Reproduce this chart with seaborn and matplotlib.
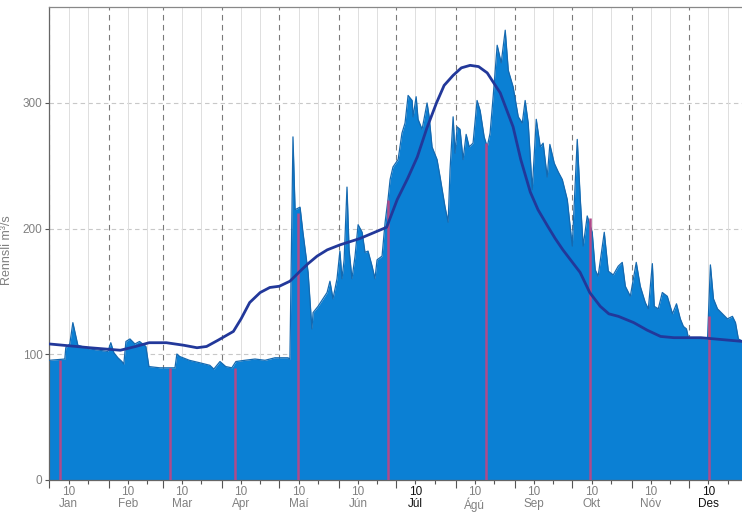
import numpy as np
import matplotlib.pyplot as plt
import seaborn as sns
import pandas as pd

# daily discharge (day of year, m3/s)
flow_day = [0, 8, 8.5, 10.6, 12.2, 13.2, 14.8, 21, 26, 30.5, 32, 33.6, 35.7, 37.8, 38.8,
            39.9, 42, 44.6, 47, 50.3, 51.9, 57.6, 65.5, 66.5, 68, 73, 78.5, 83.7, 85.8,
            89, 92, 95.2, 97.3, 102, 107.3, 112.5, 117.7, 124.5, 125.5,
            127.1, 128.2, 130.8, 132.3, 135, 137, 137.6, 140.2, 142.8, 144.9, 146.4, 148,
            150.1, 151.6, 152.7, 153.8, 155.3, 156.4, 157.9, 159.5, 161.1, 163.2, 164.7,
            166.3, 168.4, 169.9, 171, 173.6, 175.2, 176.7, 177.8, 179.3, 182, 184, 185.6,
            187.2, 189.3, 189.8, 191.4, 192.4, 194.5, 197.1, 198.2, 199.7, 202.3, 203.9,
            206.5, 208.1, 209.1, 210.7, 211.7, 212.8, 214.3, 215.9, 217.5, 219.1, 221.1,
            223.2, 224.8, 226.9, 228.5, 230, 231.6, 233.7, 235.8, 237.9, 239.5, 242,
            244.7, 246.8, 248.3, 249.9, 252, 254.1, 256.2, 257.7, 259.8, 261.2, 263.5,
            265.6, 267.7, 270.3, 272.9, 275.5, 277.1, 278.6, 280.7, 283.3, 284.9, 286.4,
            289.6, 291.7, 294.3, 296.9, 299, 300.6, 303.2, 306.3, 308.4, 311, 312.6,
            314.7, 315.7, 317.8, 319.9, 322.5, 325.2, 327.3, 329.3, 330.9, 332.5, 333.5,
            343.5, 345, 346.6, 348.7, 351.3, 353.9, 356.5, 358.1, 359.6, 362]
flow_val = [95, 96, 105, 108, 125, 118, 107, 104, 103, 102, 109, 101, 97, 94, 92,
            110, 112, 108, 110, 106, 90, 89, 89, 100, 98, 95, 93, 91, 88,
            94, 90, 89, 94, 95, 96, 95, 97, 97, 96,
            273, 215, 217, 197, 165, 120, 133, 138, 144, 149, 158, 144,
            160, 182, 160, 175, 233, 183, 160, 178, 203, 197, 181,
            182, 170, 160, 175, 178, 205, 223, 239, 249, 255, 276, 284,
            306, 302, 289, 305, 287, 279, 300, 289, 265, 255, 241,
            217, 205, 247, 289, 260, 281, 279, 255, 275, 265, 268,
            302, 294, 273, 265, 276, 305, 346, 332, 358, 326, 313,
            289, 284, 302, 284, 231, 287, 265, 268, 241, 267, 252,
            245, 239, 223, 186, 271, 223, 186, 210, 197, 167, 162,
            197, 166, 163, 170, 173, 154, 146, 173, 154, 141, 136,
            172, 138, 136, 149, 146, 132, 140, 128, 122, 120, 113,
            112, 171, 144, 136, 132, 128, 130, 125, 112, 110]

# long-term mean curve
mean_day = [0, 21, 37, 45, 52, 61, 70, 77, 82, 88, 96, 100, 104.5, 110, 115, 120,
            125.5, 130.8, 135, 139.7, 145, 151.7, 162, 176, 181.5, 187, 192, 197,
            202, 206, 210.7, 215, 219.6, 224, 228.5, 235.3, 242, 246, 251, 255, 260,
            264, 268, 272, 277, 282, 287.5, 292, 297, 305, 312, 319, 326, 340, 362]
mean_val = [108, 105, 103, 106, 109, 109, 107, 105, 106, 111, 118, 128, 141, 149, 153, 154,
            158, 166, 172, 178, 183, 187, 192, 201, 223, 240, 257, 280,
            300, 314, 322, 328, 330, 329, 324, 308, 281, 255, 229, 215, 202,
            192, 183, 175, 165, 149, 138, 132, 130, 125, 119, 114, 113, 113, 110]

# discharge measurements
meas_day = [5.4, 62.9, 97, 129.7, 176.7, 227.9, 282.3, 344.4]
meas_val = [95, 89, 89, 212, 223, 268, 208, 130]

month_start = [0, 31, 59, 90, 120, 151, 181, 212, 243, 273, 304, 334]
month_names = ['Jan', 'Feb', 'Mar', 'Apr', 'Maí', 'Jún', 'Júl', 'Ágú', 'Sep', 'Okt', 'Nóv', 'Des']

sns.set_style('white')
plt.rcParams['font.family'] = ['Liberation Sans', 'DejaVu Sans']

fig = plt.figure(figsize=(7.42, 5.17), dpi=100)
ax = fig.add_axes([0.0667, 0.0725, 0.9333, 0.914])

# grid
for v in [100, 200, 300]:
    ax.axhline(v, color='#c8c8c8', lw=0.8, ls=(0, (4, 3)), zorder=1)
for m in month_start:
    ax.axvline(m, color='#7a7a7a', lw=0.8, ls=(0, (5, 4)), zorder=1)
    ax.axvline(m + 10, color='#dedede', lw=0.7, zorder=1)
    ax.axvline(m + 20, color='#dedede', lw=0.7, zorder=1)

ax.fill_between(flow_day, flow_val, color='#0b80d4', lw=0, zorder=2)
sns.lineplot(x=flow_day, y=flow_val, color='#1569b0', lw=0.9, ax=ax,
             estimator=None, sort=False, zorder=3)
ax.vlines(meas_day, 0, meas_val, color='#b04a8a', lw=1.8, zorder=4)
sns.lineplot(x=mean_day, y=mean_val, color='#22389a', lw=2, ax=ax,
             estimator=None, sort=False, zorder=5)

ax.set_xlim(0, 361.5)
ax.set_ylim(0, 376.5)

ax.set_yticks([0, 100, 200, 300])
ax.tick_params(axis='y', colors='#555555', labelcolor='#808080', labelsize=8.5,
               length=3, width=0.8, pad=2, left=True)

ax.set_xticks([m + 10 for m in month_start])
ax.set_xticklabels(['10\n' + n for n in month_names], linespacing=0.95)
ax.set_xticks([m + 20 for m in month_start], minor=True)
ax.tick_params(axis='x', which='both', colors='#555555', labelcolor='#808080',
               labelsize=8.5, length=3, width=0.8, pad=2, bottom=True)
for lbl, n in zip(ax.get_xticklabels(), month_names):
    if n in ('Júl', 'Des'):
        lbl.set_color('#111111')

sec = ax.secondary_xaxis('bottom')
sec.set_xticks(month_start)
sec.set_xticklabels([''] * len(month_start))
sec.tick_params(length=6, width=0.8, colors='#555555')
sec.spines['bottom'].set_visible(False)

for s in ['left', 'bottom']:
    ax.spines[s].set_color('#666666')
    ax.spines[s].set_linewidth(0.9)
ax.spines['top'].set_color('#888888')
ax.spines['top'].set_linewidth(0.9)
ax.spines['right'].set_visible(False)

ax.set_xlabel('')
ax.set_ylabel('Rennsli m³/s', color='#808080', fontsize=9)
ax.yaxis.set_label_coords(-0.052, 0.486)

fig.savefig('out.png', dpi=100)
